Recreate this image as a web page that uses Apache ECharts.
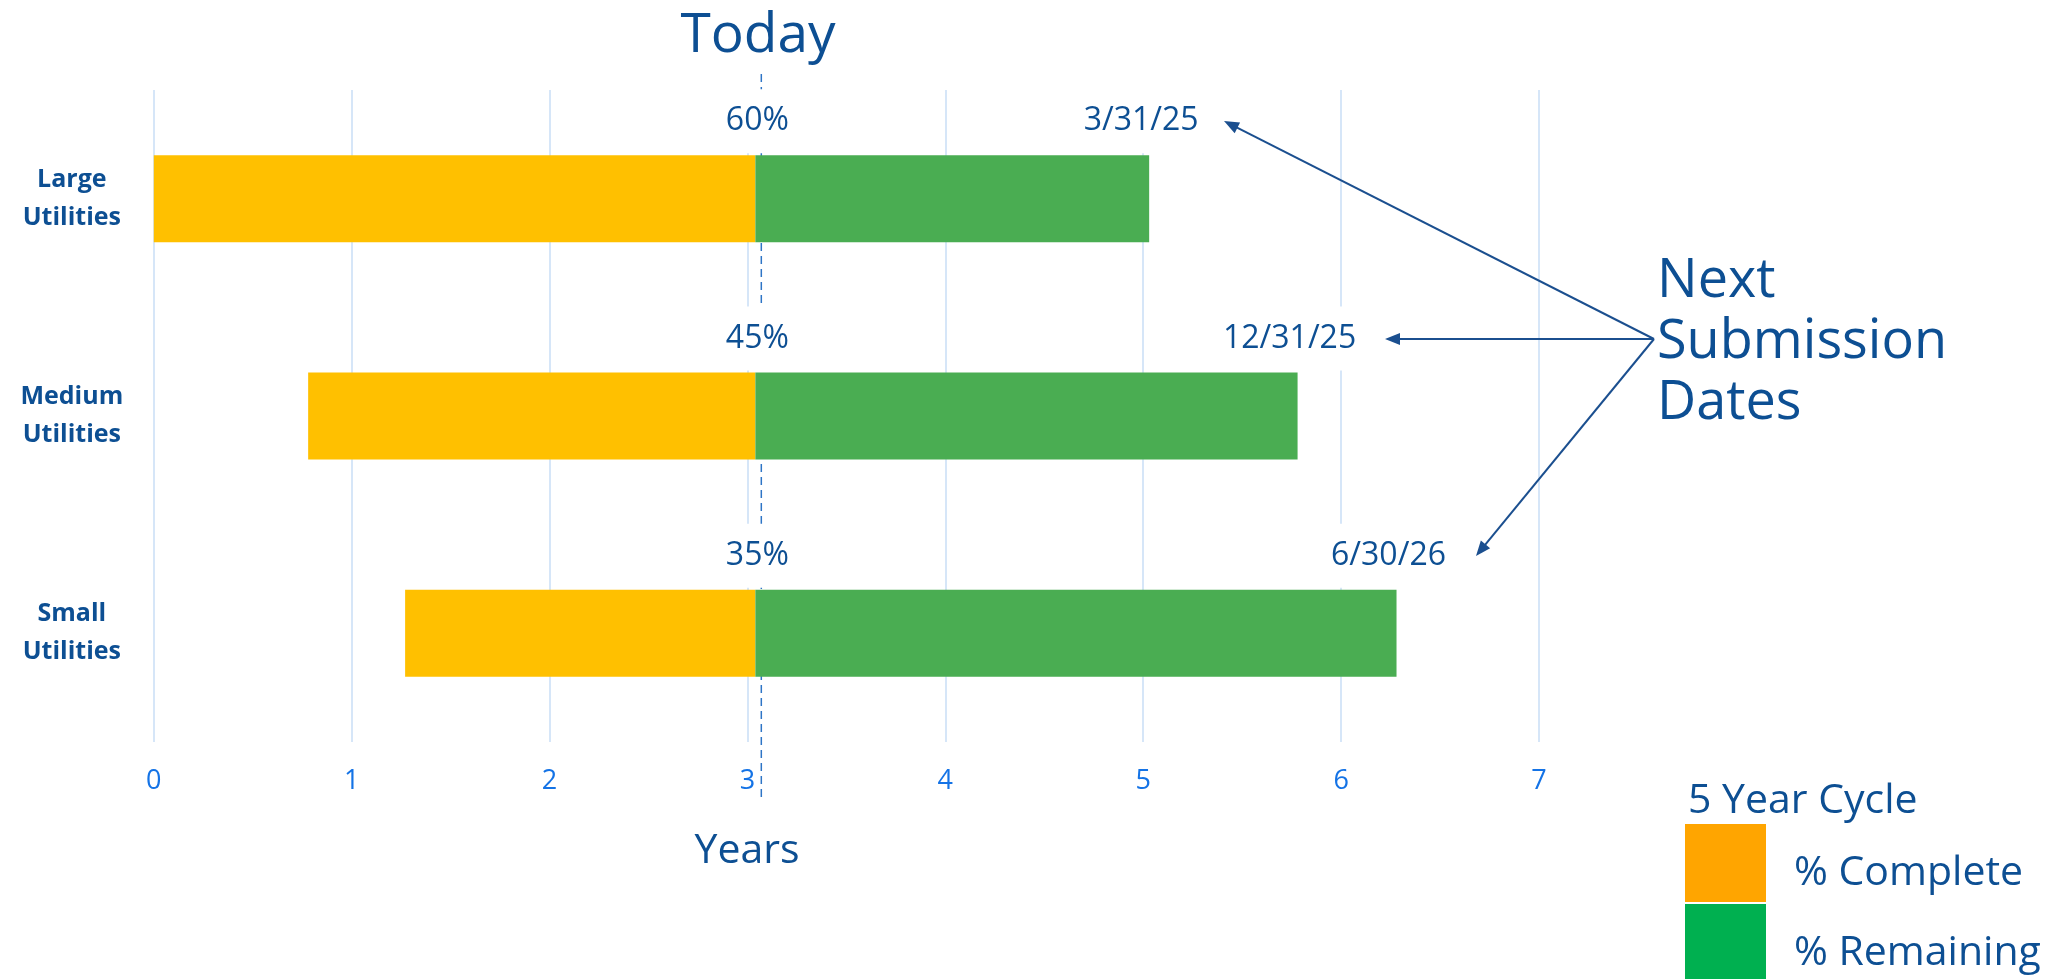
<!DOCTYPE html>
<html><head><meta charset="utf-8">
<script src="https://cdn.jsdelivr.net/npm/echarts@6/dist/echarts.min.js"></script>
<style>html,body{margin:0;padding:0;background:#fff}#c{width:2059px;height:979px}</style>
</head><body><div id="c"></div>
<script>
// ---- data ----
const categories = ['Large\nUtilities', 'Medium\nUtilities', 'Small\nUtilities'];
const cycleStart = [0, 0.78, 1.27];
const completeYears = [3.04, 2.26, 1.77];
const remainingYears = [1.99, 2.74, 3.24];
const percentLabels = ['60%', '45%', '35%'];
const dateLabels = ['3/31/25', '12/31/25', '6/30/26'];
const xMin = 0, xMax = 7, xStep = 1;
const todayValue = 3.07;
const legendNames = ['% Complete', '% Remaining'];

// ---- style ----
const FONT = "'Open Sans', sans-serif";
const DARK = '#0D4F93';
const TICK = '#1473E6';
const GRIDC = '#C8DEF6';
const BAR_ORANGE = '#FFC000';
const BAR_GREEN = '#4AAD52';
const LEG_ORANGE = '#FFA500';
const LEG_GREEN = '#00B050';
const ARROW = '#1B4F8F';

function arrow(x1, y1, x2, y2) {
  const dx = x2 - x1, dy = y2 - y1, L = Math.hypot(dx, dy);
  const ux = dx / L, uy = dy / L, hl = 15, hw = 6;
  const bx = x2 - ux * hl, by = y2 - uy * hl;
  return [
    { type: 'line', shape: { x1, y1, x2: bx + ux * 2, y2: by + uy * 2 }, style: { stroke: ARROW, lineWidth: 2 }, z: 10 },
    { type: 'polygon', shape: { points: [[x2, y2], [bx - uy * hw, by + ux * hw], [bx + uy * hw, by - ux * hw]] }, style: { fill: ARROW }, z: 10 }
  ];
}

const labelBase = {
  show: true, position: ['100%', -34], align: 'center', verticalAlign: 'middle',
  fontSize: 32, color: DARK, fontFamily: FONT, backgroundColor: '#fff',
  padding: [16, 8], lineHeight: 32
};

const ox = 1654, oy = 339;
const chart = echarts.init(document.getElementById('c'));
chart.setOption({
  animation: false,
  backgroundColor: '#fff',
  textStyle: { fontFamily: FONT },
  grid: [
    { left: 153.8, right: 520, top: 90, bottom: 237 },
    { left: 153.8, right: 520, top: 69, bottom: 182 }
  ],
  xAxis: [
    { type: 'value', gridIndex: 0, min: xMin, max: xMax, interval: xStep,
      axisLine: { show: false }, axisTick: { show: false },
      splitLine: { show: true, lineStyle: { color: GRIDC, width: 1.5 } },
      axisLabel: { fontSize: 27, color: TICK, margin: 26, fontFamily: FONT } },
    { type: 'value', gridIndex: 1, min: xMin, max: xMax, show: false }
  ],
  yAxis: [
    { type: 'category', gridIndex: 0, data: categories, inverse: true,
      axisLine: { show: false }, axisTick: { show: false }, splitLine: { show: false },
      axisLabel: { fontSize: 25, fontWeight: 'bold', color: DARK, lineHeight: 38, align: 'center', margin: 82, fontFamily: FONT } },
    { type: 'value', gridIndex: 1, min: 0, max: 1, show: false }
  ],
  legend: {
    orient: 'vertical', left: 1685, top: 824, width: 360, height: 300, padding: 0,
    itemWidth: 81, itemHeight: 78, itemGap: 2,
    icon: 'rect', selectedMode: false,
    formatter: name => '{s| }\n{t|' + name + '}',
    textStyle: {
      fontSize: 41, color: DARK, fontFamily: FONT, padding: [0, 0, 0, 23],
      rich: {
        s: { fontSize: 10, lineHeight: 20 },
        t: { fontSize: 41, lineHeight: 50, color: DARK, fontFamily: FONT }
      }
    },
    data: [
      { name: legendNames[0], itemStyle: { color: LEG_ORANGE } },
      { name: legendNames[1], itemStyle: { color: LEG_GREEN } }
    ]
  },
  series: [
    { name: 'today', type: 'line', xAxisIndex: 1, yAxisIndex: 1, z: 1, symbol: 'none', silent: true,
      data: [[todayValue, 0], [todayValue, 1]],
      lineStyle: { color: '#2E75C6', width: 1.5, type: [8, 5] } },
    { name: 'offset', type: 'bar', stack: 'cycle', z: 2, barCategoryGap: '60%', silent: true,
      itemStyle: { color: 'transparent' }, data: cycleStart },
    { name: legendNames[0], type: 'bar', stack: 'cycle', z: 2, barCategoryGap: '60%',
      itemStyle: { color: BAR_ORANGE }, data: completeYears,
      label: Object.assign({}, labelBase, { offset: [2, 0], formatter: p => percentLabels[p.dataIndex] }) },
    { name: legendNames[1], type: 'bar', stack: 'cycle', z: 2, barCategoryGap: '60%',
      itemStyle: { color: BAR_GREEN }, data: remainingYears,
      label: Object.assign({}, labelBase, { offset: [-8, 0], formatter: p => dateLabels[p.dataIndex] }) }
  ],
  graphic: [
    { type: 'text', x: 758, y: 36, z: 10, style: { text: 'Today', font: '55px ' + FONT, fill: DARK, textAlign: 'center', textVerticalAlign: 'middle' } },
    { type: 'text', x: 747, y: 851, z: 10, style: { text: 'Years', font: '41px ' + FONT, fill: DARK, textAlign: 'center', textVerticalAlign: 'middle' } },
    { type: 'text', x: 1657, y: 343, z: 10, style: { text: 'Next\nSubmission\nDates', font: '54px ' + FONT, lineHeight: 61, fill: DARK, textAlign: 'left', textVerticalAlign: 'middle' } },
    { type: 'text', x: 1688, y: 801, z: 10, style: { text: '5 Year Cycle', font: '41px ' + FONT, fill: DARK, textAlign: 'left', textVerticalAlign: 'middle' } },
    ...arrow(ox, oy, 1224, 121),
    ...arrow(ox, oy, 1385, 339),
    ...arrow(ox, oy, 1476, 556)
  ]
});
</script></body></html>
